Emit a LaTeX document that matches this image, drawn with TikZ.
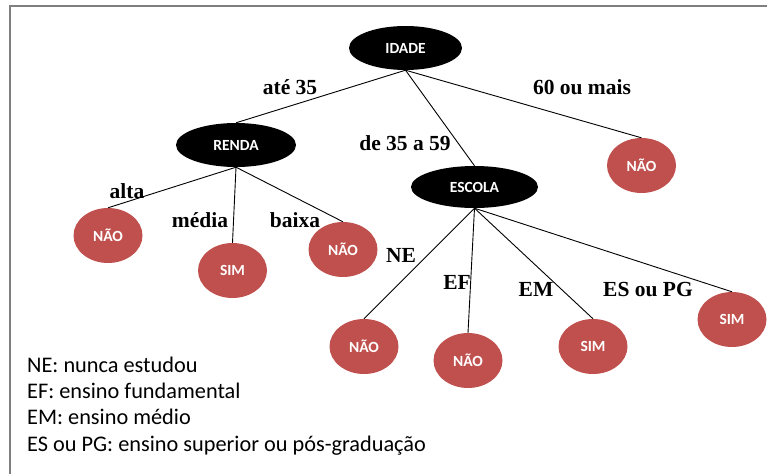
\documentclass[tikz,border=0pt]{standalone}
\usepackage{fontspec}
\setmainfont{Liberation Serif}
\newfontfamily\carlito{Carlito}
\usetikzlibrary{shapes.geometric}
\definecolor{leafred}{HTML}{C0504D}
\definecolor{framegray}{HTML}{7F7F7F}
\tikzset{
  decision/.style={ellipse, fill=black, draw=none, inner sep=0pt, text=white, font=\carlito\bfseries\fontsize{15.5}{17}\selectfont},
  leaf/.style={ellipse, fill=leafred, draw=none, inner sep=0pt, minimum width=69pt, minimum height=55pt, text=white, font=\carlito\bfseries\fontsize{15.5}{17}\selectfont},
  edgelabel/.style={anchor=base, inner sep=0pt, font=\bfseries\fontsize{21.5}{24}\selectfont},
  legend/.style={anchor=base west, inner sep=0pt, font=\carlito\fontsize{22.3}{25}\selectfont},
  conn/.style={draw=black, line width=0.9pt}
}
\begin{document}
\begin{tikzpicture}[x=1pt, y=-1pt]
\useasboundingbox (0,0) rectangle (767,474);
\draw[framegray, line width=2pt] (10,474) -- (10,6) -- (767,6);

% decision nodes
\node[decision, minimum width=113pt, minimum height=44pt] (idade) at (405.5,48) {IDADE};
\node[decision, minimum width=120pt, minimum height=44pt] (renda) at (236,145) {RENDA};
\node[decision, minimum width=127pt, minimum height=42pt] (escola) at (474.5,187) {ESCOLA};

% leaves
\node[leaf] (nao60) at (641.5,165.5) {NÃO};
\node[leaf] (naoalta) at (108,235.5) {NÃO};
\node[leaf] (simmedia) at (232.5,270.5) {SIM};
\node[leaf] (naobaixa) at (343,249.5) {NÃO};
\node[leaf] (naone) at (364,346.5) {NÃO};
\node[leaf] (naoef) at (468,360.5) {NÃO};
\node[leaf] (simem) at (593,346.5) {SIM};
\node[leaf] (simes) at (732,319.5) {SIM};

% connectors
\draw[conn] (idade.south) -- (renda.north);
\draw[conn] (idade.south) -- (escola.north);
\draw[conn] (idade.south) -- (nao60.north);
\draw[conn] (renda.south) -- (naoalta.north);
\draw[conn] (renda.south) -- (simmedia.north);
\draw[conn] (renda.south) -- (naobaixa.north);
\draw[conn] (escola.south) -- (naone.north);
\draw[conn] (escola.south) -- (naoef.north);
\draw[conn] (escola.south) -- (simem.north);
\draw[conn] (escola.south) -- (simes.north);

% edge labels
\node[edgelabel] (lat35) at (290,94) {até 35};
\node[edgelabel] (l60) at (582,94) {60 ou mais};
\node[edgelabel] (l3559) at (405,150) {de 35 a 59};
\node[edgelabel] (lalta) at (127,198) {alta};
\node[edgelabel] (lmedia) at (200,227) {média};
\node[edgelabel] (lbaixa) at (295,227) {baixa};
\node[edgelabel] (lne) at (401,262) {NE};
\node[edgelabel] (lef) at (457,289) {EF};
\node[edgelabel] (lem) at (536,296) {EM};
\node[edgelabel] (les) at (648,296) {ES ou PG};

% legend
\node[legend] (leg1) at (27,372) {NE: nunca estudou};
\node[legend] (leg2) at (27,398) {EF: ensino fundamental};
\node[legend] (leg3) at (27,424.5) {EM: ensino médio};
\node[legend] (leg4) at (27,451) {ES ou PG: ensino superior ou pós-graduação};
\end{tikzpicture}
\end{document}
